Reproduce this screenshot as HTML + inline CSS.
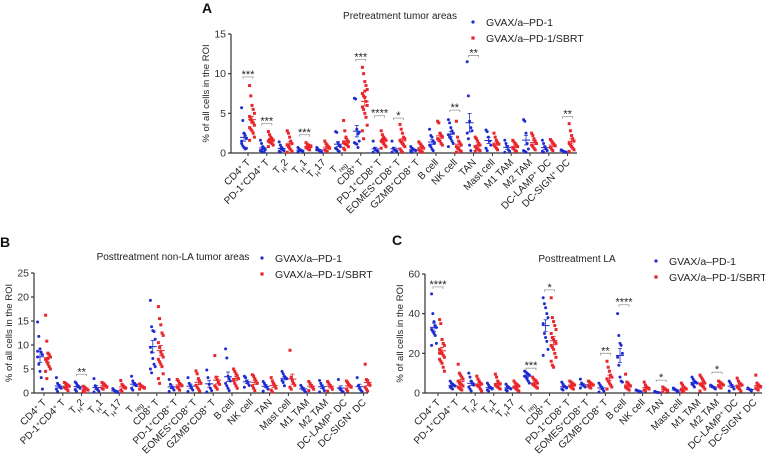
<!DOCTYPE html>
<html><head><meta charset="utf-8"><style>
html,body{margin:0;padding:0;background:#fff;}
svg{display:block;font-family:"Liberation Sans",Arial,sans-serif;}
</style></head><body>
<svg id="fig" width="765" height="457" viewBox="0 0 765 457"></svg>
<script>
const categories=["CD4{+} T","PD-1{+}CD4{+} T","T[H]2","T[H]1","T[H]17","T[reg]","CD8{+} T","PD-1{+}CD8{+} T","EOMES{+}CD8{+} T","GZMB{+}CD8{+} T","B cell","NK cell","TAN","Mast cell","M1 TAM","M2 TAM","DC-LAMP{+} DC","DC-SIGN{+} DC"];
const aBlue=[[5.7,4.1,2.5,2.2,1.8,1.2,0.9,0.7,0.5,0.6,1.5],[1.6,1.2,0.8,0.6,0.4,0.3,0.2,0.5,0.1],[1.4,1.0,0.7,0.4,0.3,0.2,0.1,0.5],[0.7,0.5,0.4,0.3,0.2,0.1,0.3],[0.7,0.5,0.3,0.2,0.1,0.4],[2.7,2.6,1.3,1.0,0.8,0.6,0.5,0.3,0.2],[6.9,6.8,3.0,2.4,1.5,1.3,1.2,1.1,0.7,2.6],[1.5,0.6,0.4,0.3,0.2,0.1],[1.5,0.6,0.4,0.3,0.2,0.1],[0.8,0.6,0.5,0.4,0.3,0.2,0.1],[3.0,2.2,2.0,1.5,1.2,1.0,0.8,0.5,0.3],[4.2,3.8,3.2,2.8,2.5,2.3,2.0,1.8,1.5,1.2,0.8],[11.5,7.2,4.0,3.2,2.8,2.5,1.8,1.0,0.3],[2.9,2.7,2.0,1.5,1.0,0.6,0.3],[1.6,1.2,0.8,0.4,0.2,0.1],[4.2,4.0,2.5,1.2,0.5,0.3,0.2,0.1],[1.6,1.2,0.8,0.5,0.3,0.2,0.1],[0.4,0.3,0.2,0.1,0.1]];
const aRed=[[8.5,7.2,6.0,5.5,5.0,4.6,4.3,4.0,3.8,3.5,3.2,3.0,2.8,2.5,2.0,1.6,4.2,3.9],[2.7,2.3,2.0,1.8,1.6,1.5,1.4,1.3,1.2,1.0,0.8,1.7],[2.8,2.5,2.0,1.5,1.2,1.0,0.8,0.6,0.4,0.2,0.1,0.9],[1.3,1.1,1.0,0.9,0.8,0.7,0.6,0.5,0.4,0.9],[1.5,1.2,1.0,0.8,0.6,0.4,0.3,0.2,0.7],[4.1,2.8,2.0,1.6,1.4,1.3,1.2,1.1,1.0,0.8,0.6,0.4],[10.8,10.0,9.0,8.5,8.0,7.5,7.2,7.0,6.5,6.0,5.8,5.5,5.0,4.5,3.5,2.8,1.8,7.8],[2.8,2.3,2.0,1.8,1.6,1.5,1.4,1.2,1.0,0.8,0.6,1.7],[3.6,3.0,2.5,2.0,1.8,1.6,1.4,1.2,1.0,0.8,0.5,0.3,0.1],[1.4,1.2,1.0,0.8,0.6,0.4,0.3,0.2,0.1],[4.0,3.8,2.5,2.2,2.0,1.8,1.6,1.5,1.2,1.0],[4.0,2.0,1.5,1.2,1.0,0.8,0.6,0.5,0.3,0.2,0.1],[2.0,1.8,1.5,1.2,1.0,0.8,0.6,0.5,0.4,0.3,0.2],[2.5,2.0,1.6,1.3,1.1,1.0,0.8,0.6,0.4],[1.6,1.4,1.2,1.0,0.8,0.6,0.5,0.3,0.2],[2.5,2.2,1.8,1.5,1.2,1.0,0.8,0.6,0.4],[1.7,1.5,1.3,1.1,0.9,0.7,0.5,0.3],[3.7,2.8,2.2,1.8,1.5,1.2,1.0,0.8,0.6,0.4,0.2]];
const aStars=[[0,"***",9.6],[1,"***",3.7],[3,"***",2.3],[6,"***",11.8],[7,"****",4.7],[8,"*",4.4],[11,"**",5.4],[12,"**",12.3],[17,"**",4.6]];
const aTicks=[0,5,10,15];
const bBlue=[[14.8,11.8,9.2,8.5,8.0,7.5,6.0,4.5,3.2,0.8,8.7],[3.2,2.0,1.6,1.2,1.0,0.8,0.3],[2.3,2.0,1.6,1.3,1.0,0.7,0.4],[3.0,1.5,1.0,0.7,0.4,0.2],[0.9,0.6,0.4,0.2,0.1],[3.5,2.5,2.0,1.8,1.5,1.0,0.6],[19.3,13.8,13.0,12.8,11.2,9.5,8.5,7.2,6.0,5.5,5.0,4.2],[2.8,1.8,1.2,1.0,0.6,0.3],[3.2,2.0,1.5,1.0,0.6,0.3],[4.8,3.2,1.8,1.0,0.5,0.2],[9.2,7.3,3.5,3.0,2.5,2.0,1.5,1.0,0.5],[3.5,3.2,2.5,2.0,1.6,1.2],[2.4,2.0,1.6,1.2,0.8,0.4],[4.5,4.0,3.5,3.2,3.0,2.6,2.2,1.5],[1.6,1.2,0.8,0.5,0.2],[2.6,2.0,1.5,1.0,0.5,0.2],[2.8,1.0,0.7,0.4,0.2],[3.2,1.5,1.0,0.6,0.3]];
const bRed=[[16.2,10.8,8.3,8.0,7.5,7.0,6.5,6.0,5.5,5.0,4.5,3.0,7.2],[2.2,2.0,1.8,1.6,1.4,1.2,1.0,0.8,0.5],[1.4,1.2,1.0,0.8,0.6,0.4,0.2],[2.2,2.0,1.8,1.5,1.2,1.0,0.8],[2.6,1.8,1.5,1.2,1.0,0.6,0.3],[1.9,1.6,1.4,1.2,1.0,0.8],[18.0,15.5,14.2,12.5,12.0,10.5,9.5,8.5,8.0,7.5,7.0,6.5,6.0,5.5,4.0,3.0,2.0],[2.8,2.5,2.0,1.8,1.5,1.2,1.0,0.6],[4.6,4.0,3.0,2.5,2.0,1.6,1.2,0.8,0.4],[7.8,3.3,2.8,2.2,1.8,1.5,1.2,0.8],[5.0,4.5,4.0,3.6,3.0,2.6,2.0,1.5,1.0],[3.8,3.5,3.0,2.5,2.0,1.5,1.0,0.5],[3.2,2.5,2.0,1.5,1.0,0.6,0.2],[8.9,3.3,2.5,2.0,1.6,1.2,0.8],[2.4,2.0,1.6,1.2,0.8,0.5],[2.4,2.0,1.6,1.2,0.8,0.4],[2.5,2.2,1.8,1.5,1.2,0.8,0.4],[6.0,2.8,2.5,2.0,1.6,1.2,0.8,0.4]];
const bStars=[[2,"**",3.9]];
const bTicks=[0,5,10,15,20,25];
const cBlue=[[50,40,36,34,33,32,31,30,29,25,24],[6,5,4.5,4,3.5,3,2.5,2],[10,8,6,5,4,3,2,1],[5,4,3,2.5,2,1.5,1],[4.5,3.5,3,2.5,2,1.5,1],[11,10.5,10,9.5,9,8.5,8,7,6,5],[48,45,43,40,38,35,30,28,26,22,19],[5.5,4.5,3.5,3,2.5,2,1.5],[7,5,4,3.5,3,2.5],[5,4,3,2,1,0.5],[40,29,25,24,20,18,14,8,6,5.5],[1.5,1.2,1,0.8,0.5],[0.8,0.5,0.3,0.2],[2.5,2,1.5,1,0.5],[8,7,6,5.5,5,4.5,4,3],[4,3.5,3,2.5,2],[6,5,4,3,2,1],[2.5,2,1.5,1]];
const cRed=[[37,35,27,25,24,22,21,20,19,18,17,16,15,13,11,20],[14.5,10,9,8,7,6,5,4.5,4,3.5,3,2.5,2,1.5],[8.5,7,6,5,4.5,4,3.5,3,2,1],[9.5,8,6,5,4.5,4,3.5,3,2.5,2],[6,5,4.5,4,3.5,3,2.5,2,1.5,1],[8,7,6.5,6,5,4.5,4,3.5,3,2.5],[48,38,36,34,32,30,28,27,26,25,24,23,22,20,18,16,14,13],[6,5.5,5,4.5,4,3.5,3,2.5,2],[6,5.5,5,4.5,4,3.5,3,2.5],[16,13,11,9,8,7,6,5,4,3,2],[9.5,5.5,5,4,3.5,3,2.5,2,1.5],[5.5,4,3,2.5,2,1.5,1],[3,2.5,2,1.5,1,0.5],[5,4,3,2.5,2,1.5,1,0.5],[9,8,7,6,5,4.5,4,3.5,3,2,1],[6,5.5,5,4.5,4,3.5,3,2.5],[7.5,6,5,4.5,4,3,2.5,2,1],[9,5,4,3.5,3,2.5,2,1.5]];
const cStars=[[0,"****",53.5],[5,"***",12.5],[6,"*",52],[9,"**",20],[10,"****",44.5],[12,"*",6.5],[15,"*",10.5]];
const cTicks=[0,20,40,60];

const NS="http://www.w3.org/2000/svg";
const svg=document.getElementById('fig');
function mk(tag,attrs,parent){const e=document.createElementNS(NS,tag);for(const k in attrs)e.setAttribute(k,attrs[k]);(parent||svg).appendChild(e);return e;}
function richLabel(t,str){
  const re=/\{([^}]*)\}|\[([^\]]*)\]|([^{\[]+)/g;let m;
  while((m=re.exec(str))){
    const s=document.createElementNS(NS,'tspan');
    if(m[1]!==undefined){s.textContent=m[1];s.setAttribute('baseline-shift','super');s.setAttribute('font-size','6.5');}
    else if(m[2]!==undefined){s.textContent=m[2];s.setAttribute('baseline-shift','sub');s.setAttribute('font-size','6.5');}
    else s.textContent=m[3];
    t.appendChild(s);
  }
}
function mean(a){return a.reduce((s,v)=>s+v,0)/a.length;}
function sem(a){const m=mean(a);return Math.sqrt(a.reduce((s,v)=>s+(v-m)*(v-m),0)/(a.length-1)/a.length);}

function panel(P,blue,red,stars,ticks){
  const g=mk('g',{},svg);
  
  
  const ymax=ticks[ticks.length-1];
  const Y=v=>P.y0-(v/ymax)*(P.y0-P.yt);
  const X=i=>P.c0+i*P.step;
  const L=mk('text',{x:P.lx,y:P.ly,'font-size':14,'font-weight':'bold',fill:'#111'},g);L.textContent=P.letter;
  
  mk('line',{x1:P.x0,y1:P.yt,x2:P.x0,y2:P.y0,stroke:'#333','stroke-width':1.2},g);
  mk('line',{x1:P.x0,y1:P.y0,x2:P.x1,y2:P.y0,stroke:'#333','stroke-width':1.2},g);
  ticks.forEach(t=>{
    mk('line',{x1:P.x0-3,y1:Y(t),x2:P.x0,y2:Y(t),stroke:'#333','stroke-width':1.2},g);
    const tx=mk('text',{x:P.x0-5,y:Y(t)+3.5,'font-size':10.5,'text-anchor':'end',fill:'#333'},g);tx.textContent=t;
    
  });
  const yt=mk('text',{x:0,y:0,'font-size':9.5,'text-anchor':'middle',fill:'#222',transform:`translate(${P.x0-22},${(P.yt+P.y0)/2}) rotate(-90)`},g);
  yt.textContent='% of all cells in the ROI';
  
  const ti=mk('text',{x:P.tx,y:P.ty,'font-size':10,'text-anchor':'middle',fill:'#222'},g);ti.textContent=P.title;
  
  [['#1f2bd0','GVAX/a\u2013PD-1',P.gy],['#e8262c','GVAX/a\u2013PD-1/SBRT',P.gy+16]].forEach(([c,n,yy],k)=>{
    const le=mk('g',{},g);
    if(k===0)mk('circle',{cx:P.gx,cy:yy,r:1.6,fill:c},le);else mk('rect',{x:P.gx-1.6,y:yy-1.6,width:3.2,height:3.2,fill:c},le);
    const t=mk('text',{x:P.gx+13,y:yy+4,'font-size':10.5,fill:'#222'},le);t.textContent=n;
  });
  categories.forEach((c,i)=>{
    const cx=X(i);
    mk('line',{x1:cx,y1:P.y0,x2:cx,y2:P.y0+3,stroke:'#333','stroke-width':1},g);
    const t=mk('text',{x:0,y:0,'font-size':10,'text-anchor':'end',fill:'#222',transform:`translate(${cx+3},${P.y0+10}) rotate(-45)`},g);
    richLabel(t,c);
    
    [[blue[i],'#1f2bd0',-4,0],[red[i],'#e8262c',4,1]].forEach(([arr,col,off,sq])=>{
      const sg=mk('g',{},g);
      
      
      arr.forEach((v,j)=>{
        const jit=((j%5)-2)*1.2;
        const px=cx+off+jit,py=Y(v);
        let d;
        if(sq)d=mk('rect',{x:px-1.5,y:py-1.5,width:3,height:3,fill:col},sg);
        else d=mk('circle',{cx:px,cy:py,r:1.5,fill:col},sg);
        
      });
      const m=mean(arr),s=sem(arr);
      mk('line',{x1:cx+off-4,y1:Y(m),x2:cx+off+4,y2:Y(m),stroke:col,'stroke-width':1},sg);
      mk('line',{x1:cx+off,y1:Y(m+s),x2:cx+off,y2:Y(Math.max(0,m-s)),stroke:col,'stroke-width':0.8},sg);
      mk('line',{x1:cx+off-2,y1:Y(m+s),x2:cx+off+2,y2:Y(m+s),stroke:col,'stroke-width':0.8},sg);
      mk('line',{x1:cx+off-2,y1:Y(Math.max(0,m-s)),x2:cx+off+2,y2:Y(Math.max(0,m-s)),stroke:col,'stroke-width':0.8},sg);
    });
  });
  stars.forEach(([i,s,v])=>{
    const cx=X(i),yy=Y(v);
    const sg=mk('g',{},g);
    mk('path',{d:`M${cx-5},${yy+2}V${yy}H${cx+5}V${yy+2}`,fill:'none',stroke:'#999','stroke-width':0.8},sg);
    const t=mk('text',{x:cx,y:yy+1,'font-size':11,'text-anchor':'middle',fill:'#222'},sg);t.textContent=s;
  });
}
panel({name:'panel-a',letter:'A',lx:202,ly:13,x0:231,x1:577,yt:34,y0:153,c0:248,step:18.8,title:'Pretreatment tumor areas',tx:400,ty:19,gx:473,gy:22},aBlue,aRed,aStars,aTicks);
panel({name:'panel-b',letter:'B',lx:0,ly:247,x0:34,x1:368,yt:273,y0:393,c0:44,step:18.8,title:'Posttreatment non-LA tumor areas',tx:173,ty:260,gx:262,gy:258},bBlue,bRed,bStars,bTicks);
panel({name:'panel-c',letter:'C',lx:392,ly:245,x0:425,x1:762,yt:274,y0:393,c0:438,step:18.6,title:'Posttreatment LA',tx:577,ty:262,gx:656,gy:261},cBlue,cRed,cStars,cTicks);
</script>
</body></html>
